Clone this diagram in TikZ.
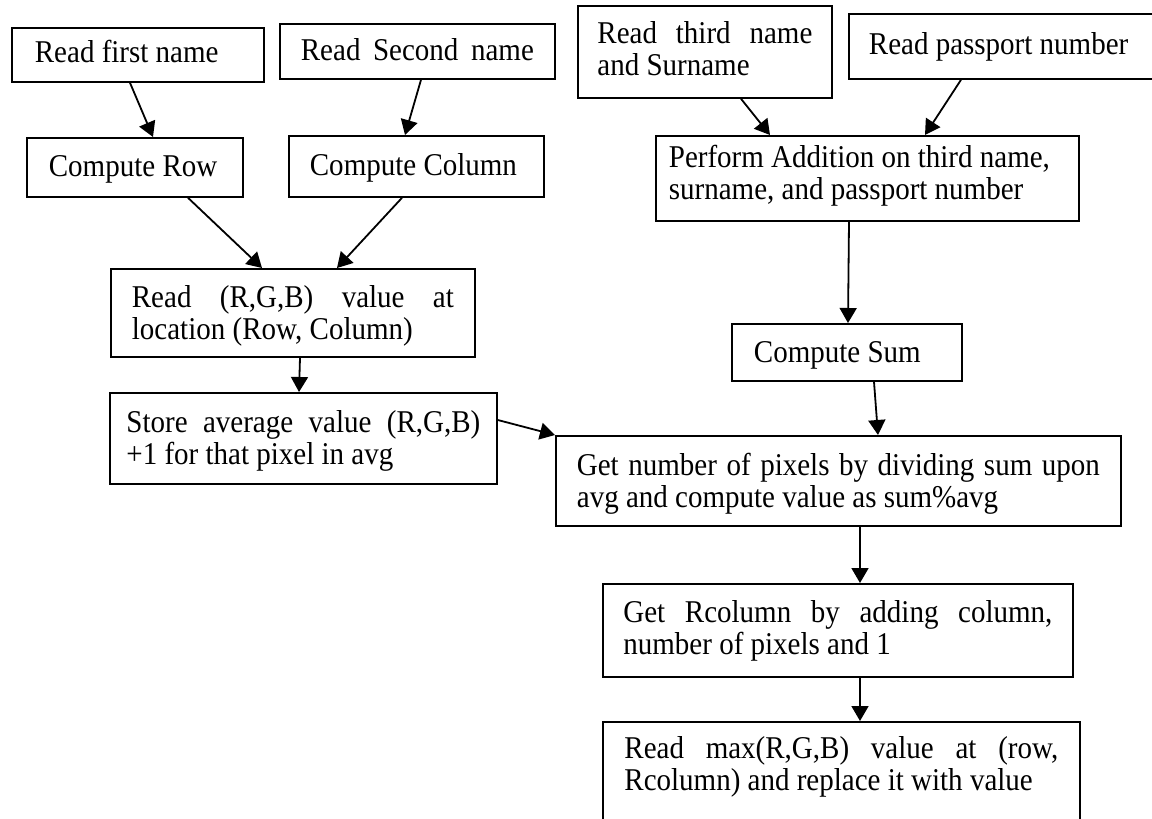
\documentclass[tikz,border=0pt]{standalone}
\usepackage{fontspec}
\setmainfont{Liberation Serif}[FakeStretch=0.915]
\usetikzlibrary{arrows.meta}
\newcommand{\jline}[1]{\makebox[\hsize][s]{\spaceskip=0pt\xspaceskip=0pt\relax #1}}
\newcommand{\boxfont}{\fontsize{31.7}{32}\selectfont}
\begin{document}
\begin{tikzpicture}[x=1pt,y=-1pt,
  box/.style={draw, line width=1.8pt, anchor=north west, inner ysep=0pt, align=justify, font=\boxfont},
  arr/.style={line width=1.8pt, -{Triangle[width=17pt,length=15pt]}}]
\useasboundingbox (0,0) rectangle (1152,819);
\clip (0,0) rectangle (1152,819);
\fill[white] (0,0) rectangle (1152,819);

% top row
\node[box, inner xsep=23pt, text width=206pt, text height=35pt, text depth=19pt] (first) at (11,27) {\mbox{Read first name}};
\node[box, inner xsep=21pt, text width=233pt, text height=37pt, text depth=18pt] (second) at (279,23) {\jline{Read Second name}};
\node[box, inner xsep=19.5pt, text width=215pt, text height=38pt, text depth=54pt] (third) at (577,5) {\jline{Read third name}\\and Surname};
\node[box, inner xsep=20pt, text width=282pt, text height=41pt, text depth=24pt] (passport) at (848,13) {\mbox{Read passport number}};

% second row
\node[box, inner xsep=22pt, text width=172pt, text height=39pt, text depth=20pt] (row) at (26,137) {\mbox{Compute Row}};
\node[box, inner xsep=21pt, text width=213pt, text height=40pt, text depth=21pt] (column) at (288,135) {\mbox{Compute Column}};
\node[box, inner xsep=13pt, text width=397pt, text height=32pt, text depth=53pt] (perform) at (655,135) {\mbox{Perform Addition on third name,}\\surname, and passport number};

% left column
\node[box, inner xsep=21pt, text width=322pt, text height=39pt, text depth=49pt] (rgb) at (110,268) {\jline{Read (R,G,B) value at}\\location (Row, Column)};
\node[box, inner xsep=16.5pt, text width=354pt, text height=40pt, text depth=51pt] (store) at (109,392) {\jline{Store average value (R,G,B)}\\+1 for that pixel in avg};

% right column
\node[box, inner xsep=22pt, text width=186pt, text height=39pt, text depth=18pt] (sum) at (731,323) {\mbox{Compute Sum}};
\node[box, inner xsep=21pt, text width=523pt, text height=40pt, text depth=50pt] (getnum) at (555,435) {\jline{Get number of pixels by dividing sum upon}\\avg and compute value as sum\%avg};
\node[box, inner xsep=20.5pt, text width=429pt, text height=39pt, text depth=54pt] (rcol) at (602,583) {\jline{Get Rcolumn by adding column,}\\number of pixels and 1};
\node[box, inner xsep=21.5pt, text width=434pt, text height=37pt, text depth=102pt] (max) at (602,721) {\jline{Read max(R,G,B) value at (row,}\\Rcolumn) and replace it with value};

% connectors
\draw[arr] ([xshift=119pt]first.south west) -- ([xshift=127pt]row.north west);
\draw[arr] ([xshift=142pt]second.south west) -- ([xshift=117pt]column.north west);
\draw[arr] ([xshift=162pt]row.south west) -- ([xshift=152pt]rgb.north west);
\draw[arr] ([xshift=114pt]column.south west) -- ([xshift=227pt]rgb.north west);
\draw[arr] ([xshift=190pt]rgb.south west) -- ([xshift=190pt]store.north west);
\draw[arr] ([yshift=-28pt]store.north east) -- (getnum.north west);
\draw[arr] ([xshift=164pt]third.south west) -- ([xshift=115pt]perform.north west);
\draw[arr] ([xshift=113pt]passport.south west) -- ([xshift=270pt]perform.north west);
\draw[arr] ([xshift=194pt]perform.south west) -- ([xshift=117pt]sum.north west);
\draw[arr] ([xshift=143pt]sum.south west) -- ([xshift=323pt]getnum.north west);
\draw[arr] ([xshift=305pt]getnum.south west) -- ([xshift=258pt]rcol.north west);
\draw[arr] ([xshift=258pt]rcol.south west) -- ([xshift=258pt]max.north west);
\end{tikzpicture}
\end{document}
